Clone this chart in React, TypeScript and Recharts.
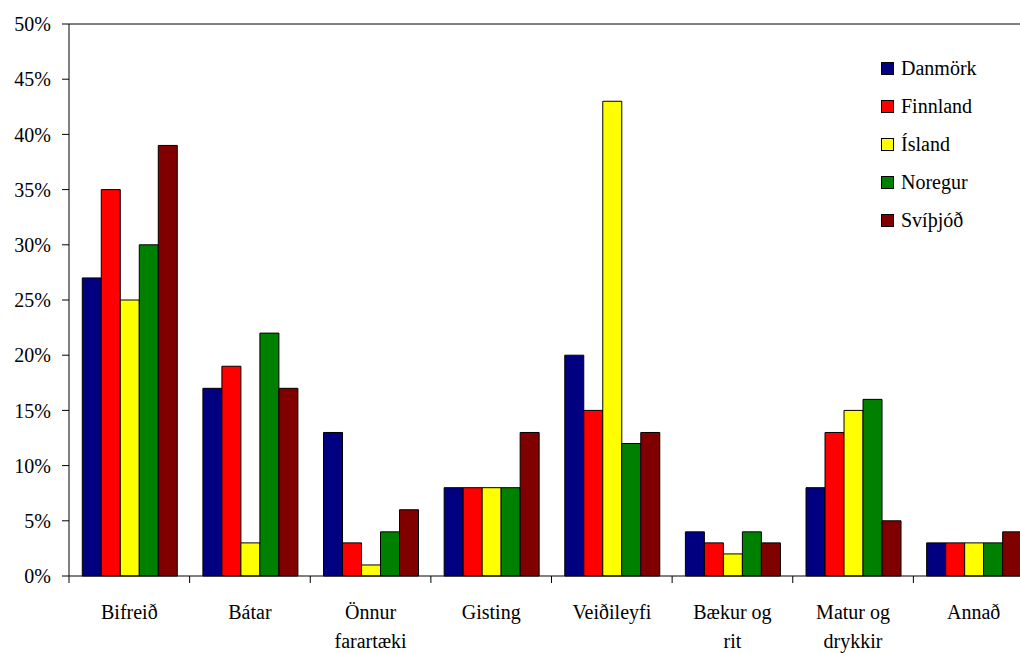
import React from 'react';
import {
  BarChart,
  Bar,
  XAxis,
  YAxis,
  ReferenceLine
} from 'recharts';

const categories = [
  'Bifreið',
  'Bátar',
  'Önnur\nfarartæki',
  'Gisting',
  'Veiðileyfi',
  'Bækur og\nrit',
  'Matur og\ndrykkir',
  'Annað'
];

const danmork = [27, 17, 13, 8, 20, 4, 8, 3];
const finnland = [35, 19, 3, 8, 15, 3, 13, 3];
const island = [25, 3, 1, 8, 43, 2, 15, 3];
const noregur = [30, 22, 4, 8, 12, 4, 16, 3];
const svithjod = [39, 17, 6, 13, 13, 3, 5, 4];

const yTicks = [0, 5, 10, 15, 20, 25, 30, 35, 40, 45, 50];

const seriesList = [
  { key: 'danmork', name: 'Danmörk', color: '#000080', values: danmork },
  { key: 'finnland', name: 'Finnland', color: '#FF0000', values: finnland },
  { key: 'island', name: 'Ísland', color: '#FFFF00', values: island },
  { key: 'noregur', name: 'Noregur', color: '#008000', values: noregur },
  { key: 'svithjod', name: 'Svíþjóð', color: '#800000', values: svithjod }
];

const data = categories.map((cat, i) => {
  const row: { [key: string]: string | number } = { category: cat };
  seriesList.forEach((s) => {
    row[s.key] = s.values[i];
  });
  return row;
});

const FONT =
  "'Times New Roman', Times, 'Liberation Serif', Tinos, 'Noto Serif', 'DejaVu Serif', serif";
const CHART_W = 1040;
const CHART_H = 653;
const MARGIN = { top: 24, right: 6, left: 0, bottom: 0 };
const Y_AXIS_W = 69;
const HALF_BAND = (CHART_W - MARGIN.right - Y_AXIS_W) / categories.length / 2;

const CategoryTick = (props: any) => {
  const { x, y, payload } = props;
  const lines = String(payload.value).split('\n');
  return (
    <g>
      <line x1={x - HALF_BAND} x2={x - HALF_BAND} y1={y} y2={y + 7} stroke="#000" />
      <text
        x={x}
        y={y + 43}
        textAnchor="middle"
        fill="#000"
        fontFamily={FONT}
        fontSize={20}
      >
        {lines.map((line, i) => (
          <tspan key={i} x={x} dy={i === 0 ? 0 : 29}>
            {line}
          </tspan>
        ))}
      </text>
    </g>
  );
};

// legend sits inside the plot, drawn as plain html over the chart
const LegendBox = () => (
  <div
    style={{
      position: 'absolute',
      top: 50,
      left: 881,
      fontFamily: FONT,
      fontSize: 20,
      color: '#000'
    }}
  >
    {seriesList.map((s) => (
      <div
        key={s.key}
        style={{ display: 'flex', alignItems: 'center', height: 37.8 }}
      >
        <span
          style={{
            width: 11,
            height: 11,
            background: s.color,
            border: '1px solid #000',
            marginRight: 7
          }}
        />
        <span>{s.name}</span>
      </div>
    ))}
  </div>
);

export default function App() {
  return (
    <div
      style={{
        position: 'absolute',
        top: 0,
        left: 0,
        width: 1020,
        height: 653,
        overflow: 'hidden',
        background: '#FFFFFF'
      }}
    >
      <BarChart
        width={CHART_W}
        height={CHART_H}
        data={data}
        margin={MARGIN}
        barCategoryGap="11%"
        barGap={0}
      >
        <XAxis
          dataKey="category"
          interval={0}
          tickLine={false}
          tickSize={0}
          tickMargin={0}
          height={CHART_H - 576}
          axisLine={{ stroke: '#000' }}
          tick={<CategoryTick />}
        />
        <YAxis
          domain={[0, 50]}
          ticks={yTicks}
          width={Y_AXIS_W}
          tickSize={7}
          tickMargin={11}
          interval={0}
          axisLine={{ stroke: '#000' }}
          tickLine={{ stroke: '#000' }}
          tickFormatter={(v) => `${v}%`}
          tick={{ fill: '#000', fontFamily: FONT, fontSize: 20 }}
        />
        <ReferenceLine y={50} stroke="#000" />
        {seriesList.map((s) => (
          <Bar
            key={s.key}
            dataKey={s.key}
            name={s.name}
            fill={s.color}
            stroke="#000"
            strokeWidth={1}
            isAnimationActive={false}
          />
        ))}
      </BarChart>
      <LegendBox />
    </div>
  );
}
